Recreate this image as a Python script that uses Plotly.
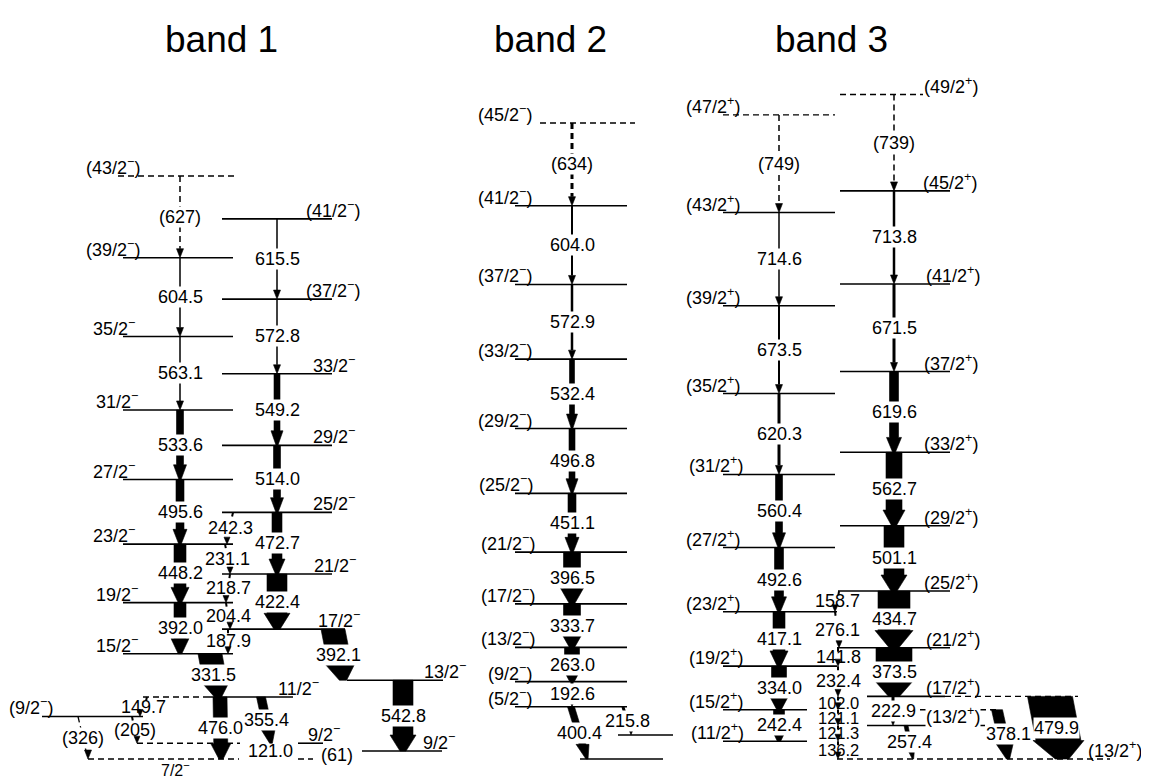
import plotly.graph_objects as go

# ------------------------------------------------------------------
# DATA: level scheme (energies in keV, relative to the lowest drawn level of each band)
# ------------------------------------------------------------------
M = "<sup>−</sup>"
P = "<sup>+</sup>"

# ---- levels ----
LEVEL_SPIN = [
    # band 1, left sequence
    f"(43/2{M})", f"(39/2{M})", f"35/2{M}", f"31/2{M}", f"27/2{M}", f"23/2{M}", f"19/2{M}", f"15/2{M}",
    f"11/2{M}", "", f"(9/2{M})", f"9/2{M}", "", f"7/2{M}", "", f"9/2{M}",
    # band 1, right sequence
    f"13/2{M}", f"17/2{M}", f"21/2{M}", f"25/2{M}", f"29/2{M}", f"33/2{M}", f"(37/2{M})", f"(41/2{M})",
    # band 2
    f"(45/2{M})", f"(41/2{M})", f"(37/2{M})", f"(33/2{M})", f"(29/2{M})", f"(25/2{M})", f"(21/2{M})",
    f"(17/2{M})", f"(13/2{M})", f"(9/2{M})", f"(5/2{M})", "", "",
    # band 3, left sequence
    f"(47/2{P})", f"(43/2{P})", f"(39/2{P})", f"(35/2{P})", f"(31/2{P})", f"(27/2{P})", f"(23/2{P})",
    f"(19/2{P})", f"(15/2{P})", "", f"(11/2{P})",
    # band 3, right sequence
    f"(49/2{P})", f"(45/2{P})", f"(41/2{P})", f"(37/2{P})", f"(33/2{P})", f"(29/2{P})", f"(25/2{P})",
    f"(21/2{P})", f"(17/2{P})", "", f"(13/2{P})", f"(13/2{P})",
]
LEVEL_E = [
    4471.5, 3844.5, 3240.0, 2676.9, 2143.3, 1647.7, 1199.5, 807.5,
    476.0, 476.0, 326.0, 121.0, 121.0, 0.0, 0.0, 61.0,
    603.8, 995.9, 1418.3, 1891.0, 2405.0, 2954.2, 3527.0, 4142.5,
    4877.4, 4243.4, 3639.4, 3066.5, 2534.1, 2037.3, 1586.2,
    1189.7, 856.0, 593.0, 400.4, 184.6, 0.0,
    4939.6, 4190.6, 3476.0, 2802.5, 2182.2, 1621.8, 1129.2,
    712.1, 378.1, 378.1, 135.9,
    5095.8, 4356.8, 3643.0, 2971.5, 2351.9, 1789.2, 1288.1,
    853.4, 479.9, 479.9, 257.4, 0.0,
]
LEVEL_TENTATIVE = [  # drawn dashed
    True, False, False, False, False, False, False, False,
    False, True, False, False, True, True, True, False,
    False, False, False, False, False, False, False, False,
    True, False, False, False, False, False, False,
    False, False, False, False, False, False,
    True, False, False, False, False, False, False,
    False, False, True, False,
    True, False, False, False, False, False, False,
    False, False, True, False, True,
]

# ---- gamma transitions ----
GAMMA_LABEL = [
    # band 1 left
    "(627)", "604.5", "563.1", "533.6", "495.6", "448.2", "392.0", "331.5", "476.0", "355.4",
    "149.7", "(205)", "(326)", "121.0", "(61)",
    # band 1 cross-over
    "242.3", "231.1", "218.7", "204.4", "187.9",
    # band 1 right
    "615.5", "572.8", "549.2", "514.0", "472.7", "422.4", "392.1", "542.8",
    # band 2
    "(634)", "604.0", "572.9", "532.4", "496.8", "451.1", "396.5", "333.7", "263.0", "192.6",
    "400.4", "215.8",
    # band 3 left
    "(749)", "714.6", "673.5", "620.3", "560.4", "492.6", "417.1", "334.0", "242.4",
    # band 3 right
    "(739)", "713.8", "671.5", "619.6", "562.7", "501.1", "434.7", "373.5", "222.9", "257.4",
    "378.1", "479.9",
    # band 3 cross-over
    "158.7", "276.1", "141.8", "232.4", "102.0", "121.1", "121.3", "136.2",
]
GAMMA_EI = [
    4471.5, 3844.5, 3240.0, 2676.9, 2143.3, 1647.7, 1199.5, 807.5, 476.0, 476.0,
    476.0, 326.0, 326.0, 121.0, 61.0,
    1891.0, 1647.7, 1418.3, 1199.5, 995.9,
    4142.5, 3527.0, 2954.2, 2405.0, 1891.0, 1418.3, 995.9, 603.8,
    4877.4, 4243.4, 3639.4, 3066.5, 2534.1, 2037.3, 1586.2, 1189.7, 856.0, 593.0,
    400.4, 400.4,
    4939.6, 4190.6, 3476.0, 2802.5, 2182.2, 1621.8, 1129.2, 712.1, 378.1,
    5095.8, 4356.8, 3643.0, 2971.5, 2351.9, 1789.2, 1288.1, 853.4, 479.9, 257.4,
    378.1, 479.9,
    1288.1, 1129.2, 853.4, 712.1, 479.9, 378.1, 257.4, 135.9,
]
GAMMA_EF = [
    3844.5, 3240.0, 2676.9, 2143.3, 1647.7, 1199.5, 807.5, 476.0, 0.0, 121.0,
    326.0, 121.0, 0.0, 0.0, 0.0,
    1647.7, 1418.3, 1199.5, 995.9, 807.5,
    3527.0, 2954.2, 2405.0, 1891.0, 1418.3, 995.9, 603.8, 61.0,
    4243.4, 3639.4, 3066.5, 2534.1, 2037.3, 1586.2, 1189.7, 856.0, 593.0, 400.4,
    0.0, 184.6,
    4190.6, 3476.0, 2802.5, 2182.2, 1621.8, 1129.2, 712.1, 378.1, 135.9,
    4356.8, 3643.0, 2971.5, 2351.9, 1789.2, 1288.1, 853.4, 479.9, 257.4, 0.0,
    0.0, 0.0,
    1129.2, 853.4, 712.1, 479.9, 378.1, 257.4, 135.9, 0.0,
]
GAMMA_INTENSITY = [  # relative intensity (arrow width)
    1.5, 1.5, 1.5, 7, 8, 12, 12, 24, 14, 9,
    1.5, 1.2, 1.2, 0, 0,
    1.5, 1.5, 1.5, 1.5, 1.5,
    1.5, 1.5, 6, 7, 10, 20, 24, 20,
    3, 2, 2.5, 5, 6, 8, 17, 17, 15, 3,
    7, 3,
    1.5, 1.5, 2, 3, 7, 9, 12, 15, 11,
    1.5, 2.5, 3, 9, 16, 20, 32, 36, 3, 4,
    11, 45,
    1.5, 1.5, 1.5, 1.5, 1.5, 1.5, 1.5, 1.5,
]

BAND_TITLES = ["band 1", "band 2", "band 3"]

# ------------------------------------------------------------------
# LAYOUT / GEOMETRY (drawing positions, px on the 1149-wide page)
# ------------------------------------------------------------------
LEVEL_X0 = [
    118, 123, 123, 123, 123, 123, 123, 123,
    203, 143, 42, 298, 137, 88, 298, 362,
    347, 222, 222, 222, 222, 222, 222, 222,
    540, 515, 515, 515, 515, 515, 515,
    515, 515, 515, 515, 618, 580,
    723, 723, 723, 723, 723, 723, 723,
    723, 723, 920, 723,
    840, 840, 840, 840, 840, 840, 838,
    837, 867, 945, 867, 837,
]
LEVEL_X1 = [
    237, 233, 233, 233, 233, 233, 233, 233,
    293, 203, 143, 323, 240, 239, 313, 442,
    443, 345, 332, 332, 332, 332, 332, 332,
    635, 627, 627, 627, 627, 627, 627,
    627, 627, 627, 627, 673, 663,
    835, 835, 835, 835, 835, 835, 837,
    837, 807, 1000, 807,
    923, 950, 950, 950, 950, 950, 950,
    950, 945, 1078, 985, 1110,
]
LEVEL_LABEL_X = [
    85, 85, 92, 95, 92, 92, 95, 95,
    277, None, 8, 307, None, 175, None, 422,
    423, 317, 313, 312, 312, 312, 305, 305,
    477, 477, 477, 477, 477, 478, 480,
    480, 480, 487, 487, None, None,
    685, 685, 685, 685, 688, 685, 685,
    688, 688, None, 690,
    923, 922, 925, 923, 923, 923, 923,
    925, 925, None, 925, 1087,
]
GAMMA_X_TOP = [
    180, 180, 180, 180, 180, 180, 180, 210, 220, 261,
    147, 132, 78, 270, 337,
    233, 225, 230, 226, 228,
    277, 277, 277, 277, 277, 277, 333, 403,
    572, 572, 572, 572, 572, 572, 572, 572, 572, 572,
    571, 623,
    779, 779, 779, 779, 779, 779, 779, 779, 779,
    894, 894, 894, 894, 894, 894, 894, 894, 893, 906,
    997, 1050,
    839, 835, 838, 838, 838, 838, 838, 838,
]
GAMMA_X_BOT = [
    180, 180, 180, 180, 180, 180, 180, 218, 221, 271,
    140, 137, 88, 270, 337,
    227, 230, 226, 230, 228,
    277, 277, 277, 277, 277, 277, 343, 403,
    572, 572, 572, 572, 572, 572, 572, 572, 572, 572,
    587, 631,
    779, 779, 779, 779, 779, 779, 779, 779, 779,
    894, 894, 894, 894, 894, 894, 894, 894, 893, 913,
    1008, 1062,
    835, 839, 838, 838, 838, 838, 838, 838,
]
# drawing style: 'full' (solid), 'dash' (tentative), 'stub' (short cross-over), 'none' (label only)
GAMMA_STYLE = [
    "dash", "full", "full", "full", "full", "full", "full", "full", "full", "full",
    "stub", "stub", "dash", "none", "none",
    "stub", "stub", "stub", "stub", "stub",
    "full", "full", "full", "full", "full", "full", "full", "full",
    "dash", "full", "full", "full", "full", "full", "full", "full", "full", "full",
    "full", "full",
    "dash", "full", "full", "full", "full", "full", "full", "full", "full",
    "dash", "full", "full", "full", "full", "full", "full", "full", "full", "full",
    "full", "full",
    "stub", "stub", "stub", "stub", "stub", "stub", "stub", "stub",
]
GAMMA_LABEL_DX = {"378.1": 6, "331.5": -1}
SMALL_LABELS = {"102.0", "121.1", "121.3", "136.2"}

# page geometry: the plot div sits 8 px from the page's top-left corner (body margin)
OFFSET = 8
W, H = 1149 - OFFSET, 779 - OFFSET
KEV_PER_PX = 7.669                      # vertical scale of the drawing
E_AT_PAGE_BOTTOM = -153.4               # keV at page row 779
Y_RANGE = [E_AT_PAGE_BOTTOM, E_AT_PAGE_BOTTOM + H * KEV_PER_PX]
X_RANGE = [OFFSET, OFFSET + W]
LABEL_FONT = dict(family="Liberation Sans, Arial, sans-serif", size=18, color="black")
SMALL_FONT = dict(family="Liberation Sans, Arial, sans-serif", size=16.5, color="black")


def ylen(px):
    return px * KEV_PER_PX


# ------------------------------------------------------------------
# BUILD FIGURE
# ------------------------------------------------------------------
fig = go.Figure()

# levels
sx, sy, dx_, dy_ = [], [], [], []
for e, x0, x1, tent in zip(LEVEL_E, LEVEL_X0, LEVEL_X1, LEVEL_TENTATIVE):
    if tent:
        dx_ += [x0, x1, None]
        dy_ += [e, e, None]
    else:
        sx += [x0, x1, None]
        sy += [e, e, None]
fig.add_trace(go.Scatter(x=sx, y=sy, mode="lines", line=dict(color="black", width=1.6),
                         hoverinfo="skip", showlegend=False))
fig.add_trace(go.Scatter(x=dx_, y=dy_, mode="lines",
                         line=dict(color="black", width=1.4, dash="6px,4px"),
                         hoverinfo="skip", showlegend=False))

# transitions
poly_x, poly_y = [], []
annotations = []


def add_poly(xs, ys):
    poly_x.extend(xs + [None])
    poly_y.extend(ys + [None])


def head_triangle(xb, eb, hw, hh_px):
    eh = eb + ylen(hh_px)
    add_poly([xb - hw / 2, xb, xb + hw / 2, xb - hw / 2], [eh, eb, eh, eh])
    return eh


for lab, ei, ef, inten, xt, xb, style in zip(GAMMA_LABEL, GAMMA_EI, GAMMA_EF, GAMMA_INTENSITY,
                                              GAMMA_X_TOP, GAMMA_X_BOT, GAMMA_STYLE):
    w = inten
    span_px = (ei - ef) / KEV_PER_PX
    use_bg = style in ("full", "dash")
    if style == "full" and w >= 4:
        hh_px = min(14 + 0.1 * w, 0.45 * span_px)
        eh = ef + ylen(hh_px)
        f = (ei - eh) / (ei - ef)
        xh = xt + (xb - xt) * f
        hw = w + 6
        tw = 0.3 * w
        add_poly([xt - w / 2, xh - w / 2, xh - hw / 2, xb - tw / 2, xb + tw / 2, xh + hw / 2,
                  xh + w / 2, xt + w / 2, xt - w / 2],
                 [ei, eh, eh, ef, ef, eh, eh, ei, ei])
    elif style in ("full", "dash"):
        eh = head_triangle(xb, ef, 7, 9)
        f = (ei - eh) / (ei - ef)
        xh = xt + (xb - xt) * f
        fig.add_trace(go.Scatter(x=[xt, xh], y=[ei, eh], mode="lines",
                                 line=dict(color="black", width=max(w, 1.3),
                                           dash="6px,4px" if style == "dash" else "solid"),
                                 hoverinfo="skip", showlegend=False))
    elif style == "stub":
        head_triangle(xb, ef, 6, 7)
        ts = ei - ylen(4)
        fig.add_trace(go.Scatter(x=[xt, xt + (xb - xt) * 0.15], y=[ei, ts], mode="lines",
                                 line=dict(color="black", width=2),
                                 hoverinfo="skip", showlegend=False))
    # label
    xm = 0.5 * (xt + xb) + GAMMA_LABEL_DX.get(lab, 0)
    annotations.append(dict(
        x=xm, y=0.5 * (ei + ef), xref="x", yref="y", text=lab, showarrow=False,
        xanchor="center", yanchor="middle",
        font=SMALL_FONT if lab in SMALL_LABELS else LABEL_FONT,
        bgcolor="white" if use_bg else None, borderpad=0,
    ))

fig.add_trace(go.Scatter(x=poly_x, y=poly_y, mode="lines", fill="toself",
                         fillcolor="black", line=dict(color="black", width=0.6),
                         hoverinfo="skip", showlegend=False))

# level labels
for spin, e, lx in zip(LEVEL_SPIN, LEVEL_E, LEVEL_LABEL_X):
    if not spin or lx is None:
        continue
    if spin.startswith("7/2"):
        # label written underneath the lowest level
        annotations.append(dict(x=lx, y=e, xref="x", yref="y", text=spin, showarrow=False,
                                xanchor="center", yanchor="middle", yshift=-10,
                                font=dict(LABEL_FONT, size=16), borderpad=0))
    else:
        annotations.append(dict(x=lx, y=e, xref="x", yref="y", text=spin, showarrow=False,
                                xanchor="left", yanchor="bottom", yshift=-3, font=LABEL_FONT,
                                bgcolor="white" if (lx == 925 and e == 257.4) else None,
                                borderpad=0))

# band titles
for title, xc in zip(BAND_TITLES, [221, 550, 831]):
    annotations.append(dict(x=xc, y=1 - (40 - OFFSET) / H, xref="x", yref="paper", text=title,
                            showarrow=False, xanchor="center", yanchor="middle",
                            font=dict(family="Liberation Sans, Arial", size=37, color="black")))

fig.update_layout(
    width=W, height=H, margin=dict(l=0, r=0, t=0, b=0, pad=0),
    paper_bgcolor="white", plot_bgcolor="white",
    xaxis=dict(range=X_RANGE, visible=False, fixedrange=True),
    yaxis=dict(range=Y_RANGE, visible=False, fixedrange=True),
    annotations=annotations, showlegend=False,
)

fig.write_html("out.html")
